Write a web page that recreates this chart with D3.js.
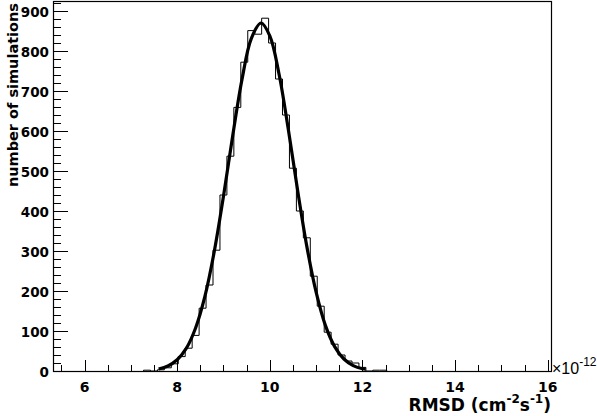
<!DOCTYPE html>
<html>
<head>
<meta charset="utf-8">
<script src="https://cdn.jsdelivr.net/npm/d3@7"></script>
<style>
  body { margin: 0; background: #fff; }
  text { font-family: "DejaVu Sans", "Liberation Sans", sans-serif; }
</style>
</head>
<body>
<div id="chart-area"></div>
<script>
// histogram bins (lower edges, width 0.15) and counts
const binStart = 7.274;
const binWidth = 0.15;
const counts = [2, 0, 3, 8, 18, 36, 57, 89, 157, 215, 302, 440, 537, 659, 772, 851, 842, 882,
                820, 730, 640, 507, 400, 333, 237, 162, 97, 67, 40, 25, 20, 9, 0, 2, 2];

// fit curve
const fitX = [7.6, 7.8, 8.0, 8.2, 8.4, 8.6, 8.8, 9.0, 9.2, 9.4, 9.6, 9.81, 10.0, 10.2, 10.4,
              10.6, 10.8, 11.0, 11.2, 11.4, 11.6, 11.8, 12.0, 12.07];
const fitY = [5, 12.5, 28, 57, 108, 187, 298, 437, 589, 729, 831, 870, 838, 742, 604,
              452, 311, 197, 114, 61, 30, 13.6, 5.6, 4.6];

const xTicks = [6, 8, 10, 12, 14, 16];
const yTicks = [0, 100, 200, 300, 400, 500, 600, 700, 800, 900];

const width = 597, height = 416;
const frame = { left: 53, right: 551, top: 1, bottom: 371 };

const svg = d3.select("#chart-area").append("svg")
    .attr("width", width)
    .attr("height", height);

const x = d3.scaleLinear().domain([5.32, 16.07]).range([frame.left, frame.right]);
const y = d3.scaleLinear().domain([0, 925]).range([frame.bottom, frame.top]);

// cadre
svg.append("rect")
    .attr("x", frame.left + 0.5).attr("y", frame.top + 0.5)
    .attr("width", frame.right - frame.left)
    .attr("height", frame.bottom - frame.top)
    .attr("fill", "none").attr("stroke", "#000").attr("stroke-width", 1.2);

// ticks
const xMinor = d3.range(5.5, 16.01, 0.5).filter(v => !xTicks.includes(v));
const yMinor = d3.range(0, 921, 20).filter(v => v % 100 !== 0);

const xt = svg.append("g").attr("stroke", "#000");
xTicks.forEach(v => xt.append("line")
    .attr("x1", Math.round(x(v)) + 0.5).attr("x2", Math.round(x(v)) + 0.5)
    .attr("y1", frame.bottom).attr("y2", frame.bottom - 11));
xMinor.forEach(v => xt.append("line")
    .attr("x1", Math.round(x(v)) + 0.5).attr("x2", Math.round(x(v)) + 0.5)
    .attr("y1", frame.bottom).attr("y2", frame.bottom - 6));

const yt = svg.append("g").attr("stroke", "#000");
yTicks.forEach(v => yt.append("line")
    .attr("x1", frame.left).attr("x2", frame.left + 15)
    .attr("y1", Math.round(y(v)) + 0.5).attr("y2", Math.round(y(v)) + 0.5));
yMinor.forEach(v => yt.append("line")
    .attr("x1", frame.left).attr("x2", frame.left + 8)
    .attr("y1", Math.round(y(v)) + 0.5).attr("y2", Math.round(y(v)) + 0.5));

// tick labels
svg.selectAll(".xlab").data(xTicks).enter().append("text")
    .attr("x", d => x(d)).attr("y", 392)
    .attr("text-anchor", "middle")
    .attr("font-size", "14px").attr("font-weight", "bold")
    .text(d => d);

svg.selectAll(".ylab").data(yTicks).enter().append("text")
    .attr("x", 49).attr("y", d => y(d) + 6)
    .attr("text-anchor", "end")
    .attr("font-size", "13.5px").attr("font-weight", "bold")
    .text(d => d);

// histogram outline
const step = [];
counts.forEach((c, i) => {
    const x0 = binStart + i * binWidth;
    step.push([x0, c], [x0 + binWidth, c]);
});
step.unshift([binStart, 0]);
step.push([binStart + counts.length * binWidth, 0]);
svg.append("path")
    .attr("d", d3.line().x(d => x(d[0])).y(d => y(d[1]))(step))
    .attr("fill", "none").attr("stroke", "#000").attr("stroke-width", 1);

// fit
const fit = fitX.map((v, i) => [v, fitY[i]]);
svg.append("path")
    .attr("d", d3.line().x(d => x(d[0])).y(d => y(d[1])).curve(d3.curveCatmullRom)(fit))
    .attr("fill", "none").attr("stroke", "#000").attr("stroke-width", 3.2);

// axis titles
svg.append("text")
    .attr("transform", "translate(18, 3) rotate(-90)")
    .attr("text-anchor", "end")
    .attr("font-size", "14.5px").attr("font-weight", "bold")
    .text("number of simulations");

const xt2 = svg.append("text")
    .attr("x", 551).attr("y", 411)
    .attr("text-anchor", "end")
    .attr("font-size", "17px").attr("font-weight", "bold");
xt2.append("tspan").text("RMSD (cm");
xt2.append("tspan").attr("dy", -8).attr("font-size", "12px").text("-2");
xt2.append("tspan").attr("dy", 8).text("s");
xt2.append("tspan").attr("dy", -8).attr("font-size", "12px").text("-1");
xt2.append("tspan").attr("dy", 8).text(")");

const ex = svg.append("text")
    .attr("x", 552).attr("y", 374)
    .style("font-family", "'Liberation Sans', sans-serif")
    .attr("font-size", "16px");
ex.append("tspan").text("\u00d710");
ex.append("tspan").attr("dy", -8).attr("font-size", "12px").text("-12");
</script>
</body>
</html>
